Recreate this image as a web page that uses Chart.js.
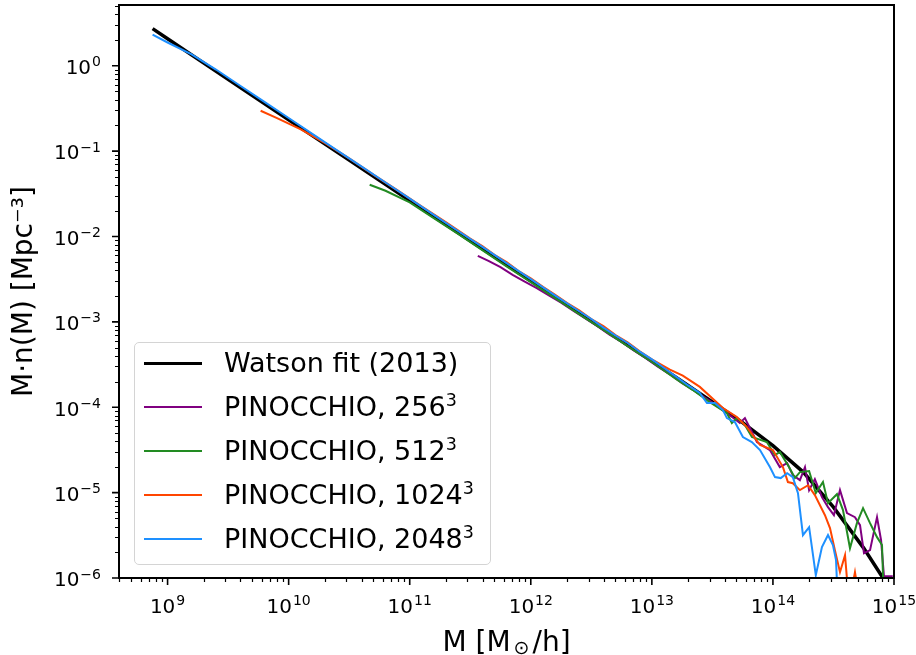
<!DOCTYPE html>
<html>
<head>
<meta charset="utf-8">
<script src="https://cdn.jsdelivr.net/npm/chart.js@4.4.1/dist/chart.umd.min.js"></script>
<style>
  html, body { margin: 0; padding: 0; background: #fff; }
  #wrap { position: relative; width: 916px; height: 655px; font-family: "DejaVu Sans"; }
  #legendBox { position: absolute; left: 134px; top: 342px; width: 357px; height: 223px; box-sizing: border-box;
    border: 1.5px solid #d4d4d4; border-radius: 5px; background: rgba(255,255,255,0.8); }
  .row { position: absolute; left: 0; height: 44px; width: 400px; }
  .swatch { position: absolute; left: 144px; width: 58px; }
  .label { position: absolute; left: 224px; top: 0; height: 44px; line-height: 44px; font-size: 27px; color: #000; white-space: nowrap; }
  .label sup { font-size: 17.5px; vertical-align: 10px; line-height: 0; }
</style>
</head>
<body>
<div id="wrap">
  <canvas id="myChart" width="916" height="655"></canvas>
  <div id="legendBox"></div>
  <div id="legendRows"></div>
</div>
<script>
// x: halo mass M [Msun/h], y: M*n(M) [Mpc^-3]
const watsonMass = [7.52e8, 1e9, 3.16e9, 1e10, 3.16e10, 1e11, 3.16e11, 1e12, 3.16e12, 1e13, 1.78e13, 3.16e13, 5.62e13, 1e14, 1.78e14, 3.16e14, 5.62e14, 1e15];
const watsonValue = [2.72, 2.07, 0.692, 0.233, 0.0785, 0.0263, 8.91e-3, 3.02e-3, 1.02e-3, 3.47e-4, 2.0e-4, 1.15e-4, 6.61e-5, 3.55e-5, 1.74e-5, 6.76e-6, 2.24e-6, 6.31e-7];

const mass256 = [3.65e11, 4.47e11, 5.62e11, 7.08e11, 8.91e11, 1.12e12, 1.41e12, 1.78e12, 2.24e12, 2.82e12, 3.55e12, 4.47e12, 5.62e12, 7.08e12, 8.91e12, 1.12e13, 1.41e13, 1.78e13, 2.24e13, 2.82e13, 3.55e13, 5.33e13, 5.87e13, 6.70e13, 7.38e13, 9.44e13, 1.14e14, 1.31e14, 1.46e14, 1.67e14, 1.84e14, 1.99e14, 2.22e14, 2.54e14, 2.85e14, 3.19e14, 3.58e14, 4.09e14, 4.76e14, 5.24e14, 5.65e14, 6.34e14, 7.24e14, 7.82e14, 8.26e14, 9.77e14];
const value256 = [5.93e-3, 5.19e-3, 4.37e-3, 3.55e-3, 2.95e-3, 2.48e-3, 2.04e-3, 1.68e-3, 1.35e-3, 1.10e-3, 8.91e-4, 7.08e-4, 5.82e-4, 4.62e-4, 3.76e-4, 2.99e-4, 2.43e-4, 1.91e-4, 1.57e-4, 1.26e-4, 1.02e-4, 6.53e-5, 7.46e-5, 5.12e-5, 3.91e-5, 3.15e-5, 1.99e-5, 2.22e-5, 1.60e-5, 1.40e-5, 1.99e-5, 1.07e-5, 1.44e-5, 8.85e-6, 6.76e-6, 5.44e-6, 1.07e-5, 5.75e-6, 5.16e-6, 4.16e-6, 1.95e-6, 2.12e-6, 5.16e-6, 2.77e-6, 1.05e-6, 1.05e-6];

const mass512 = [4.67e10, 6.31e10, 1e11, 1.58e11, 2.51e11, 3.98e11, 6.31e11, 1e12, 1.58e12, 2.51e12, 3.98e12, 6.31e12, 1e13, 1.58e13, 2.18e13, 3.01e13, 4.17e13, 4.58e13, 5.04e13, 5.87e13, 6.70e13, 8.91e13, 1.04e14, 1.14e14, 1.33e14, 1.52e14, 1.67e14, 1.99e14, 2.26e14, 2.59e14, 2.85e14, 3.38e14, 3.79e14, 4.33e14, 4.94e14, 5.55e14, 6.34e14, 7.24e14, 7.96e14, 8.26e14];
const value512 = [0.0403, 0.0343, 0.0251, 0.0164, 0.0107, 6.92e-3, 4.47e-3, 2.92e-3, 1.91e-3, 1.23e-3, 8.04e-4, 5.19e-4, 3.39e-4, 2.14e-4, 1.59e-4, 1.15e-4, 8.55e-5, 6.53e-5, 7.46e-5, 6.18e-5, 4.48e-5, 3.91e-5, 2.75e-5, 2.99e-5, 2.10e-5, 1.48e-5, 1.74e-5, 1.79e-5, 9.86e-6, 1.33e-5, 7.53e-6, 9.59e-6, 6.24e-6, 2.23e-6, 4.39e-6, 6.58e-6, 4.39e-6, 3.01e-6, 2.43e-6, 5e-7];

const mass1024 = [5.87e9, 7.94e9, 1.26e10, 2.0e10, 3.16e10, 5.01e10, 7.94e10, 1.26e11, 2.0e11, 3.16e11, 3.98e11, 5.01e11, 6.31e11, 7.94e11, 1e12, 1.26e12, 1.58e12, 2.0e12, 2.51e12, 3.16e12, 3.98e12, 5.01e12, 6.31e12, 7.94e12, 1e13, 1.41e13, 1.80e13, 2.49e13, 3.86e13, 5.04e13, 6.10e13, 7.82e13, 1e14, 1.21e14, 1.33e14, 1.46e14, 1.67e14, 1.95e14, 2.22e14, 2.69e14, 2.96e14, 3.25e14, 3.58e14, 3.94e14, 4.25e14, 4.76e14, 5.25e14];
const value1024 = [0.297, 0.245, 0.180, 0.124, 0.0822, 0.0531, 0.0347, 0.0224, 0.0146, 9.44e-3, 7.73e-3, 6.10e-3, 5.01e-3, 3.94e-3, 3.24e-3, 2.57e-3, 2.09e-3, 1.66e-3, 1.36e-3, 1.08e-3, 8.91e-4, 7.00e-4, 5.75e-4, 4.52e-4, 3.63e-4, 2.75e-4, 2.34e-4, 1.73e-4, 9.79e-5, 7.67e-5, 5.86e-5, 3.61e-5, 3.15e-5, 1.99e-5, 1.33e-5, 1.29e-5, 1.07e-5, 1.22e-5, 9.35e-6, 5.44e-6, 3.84e-6, 2.12e-6, 1.17e-6, 1.85e-6, 5e-7, 1.17e-6, 5e-7];

const mass2048 = [7.52e8, 1e9, 1.58e9, 2.51e9, 3.98e9, 6.31e9, 1e10, 1.58e10, 2.51e10, 3.98e10, 6.31e10, 1e11, 1.58e11, 2.51e11, 3.98e11, 6.31e11, 1e12, 1.58e12, 2.51e12, 3.16e12, 3.98e12, 5.01e12, 6.31e12, 7.94e12, 1e13, 1.26e13, 1.58e13, 2.0e13, 2.49e13, 2.85e13, 3.32e13, 3.86e13, 4.17e13, 4.85e13, 5.65e13, 6.70e13, 7.82e13, 9.44e13, 1.04e14, 1.16e14, 1.31e14, 1.46e14, 1.61e14, 1.77e14, 1.99e14, 2.26e14, 2.54e14, 2.85e14, 3.13e14, 3.32e14, 3.44e14];
const value2048 = [2.31, 1.87, 1.36, 0.902, 0.582, 0.377, 0.244, 0.158, 0.102, 0.0661, 0.0429, 0.0277, 0.0179, 0.0116, 7.55e-3, 4.88e-3, 3.16e-3, 2.04e-3, 1.33e-3, 1.08e-3, 8.55e-4, 6.92e-4, 5.65e-4, 4.47e-4, 3.63e-4, 2.88e-4, 2.29e-4, 1.80e-4, 1.47e-4, 1.12e-4, 1.12e-4, 9.27e-5, 7.46e-5, 6.70e-5, 4.48e-5, 3.91e-5, 3.15e-5, 1.99e-5, 1.52e-5, 1.48e-5, 1.69e-5, 1.52e-5, 9.86e-6, 3.18e-6, 3.94e-6, 1.08e-6, 2.30e-6, 3.18e-6, 2.43e-6, 1.62e-6, 5e-7];

const seriesNames = ["Watson fit (2013)", "PINOCCHIO, 256", "PINOCCHIO, 512", "PINOCCHIO, 1024", "PINOCCHIO, 2048"];
const seriesSup = ["", "3", "3", "3", "3"];
const seriesColors = ["#000000", "#800080", "#228b22", "#ff4500", "#1e90ff"];

// tick labels as [base, exponent]
const xTickValues = [1e9, 1e10, 1e11, 1e12, 1e13, 1e14, 1e15];
const xTickLabels = [["10", "9"], ["10", "10"], ["10", "11"], ["10", "12"], ["10", "13"], ["10", "14"], ["10", "15"]];
const yTickValues = [1e-6, 1e-5, 1e-4, 1e-3, 1e-2, 1e-1, 1];
const yTickLabels = [["10", "\u22126"], ["10", "\u22125"], ["10", "\u22124"], ["10", "\u22123"], ["10", "\u22122"], ["10", "\u22121"], ["10", "0"]];

const xMin = 3.97e8, xMax = 1e15;
const yMin = 1e-6, yMax = 5.14;

function pairs(xs, ys) {
  return xs.map((x, i) => ({ x: x, y: ys[i] }));
}

function minorTicks(lo, hi) {
  const out = [];
  for (let e = Math.floor(Math.log10(lo)); e <= Math.ceil(Math.log10(hi)); e++) {
    for (let k = 2; k <= 9; k++) {
      const v = k * Math.pow(10, e);
      if (v >= lo && v <= hi) out.push(v);
    }
  }
  return out;
}

const MAIN_FONT = '20px "DejaVu Sans"';
const SUP_FONT = '14px "DejaVu Sans"';

// frame, tick marks, tick labels with superscripts, and the x title
const axesDecor = {
  id: "axesDecor",
  afterDraw(chart) {
    const ctx = chart.ctx;
    const a = chart.chartArea;
    const x = chart.scales.x, y = chart.scales.y;
    ctx.save();
    ctx.strokeStyle = "#000";
    ctx.lineWidth = 1.2;
    ctx.beginPath();
    minorTicks(xMin, xMax).forEach(v => {
      const p = Math.round(x.getPixelForValue(v)) + 0.5;
      ctx.moveTo(p, a.bottom); ctx.lineTo(p, a.bottom + 4);
    });
    minorTicks(yMin, yMax).forEach(v => {
      const p = Math.round(y.getPixelForValue(v)) + 0.5;
      ctx.moveTo(a.left, p); ctx.lineTo(a.left - 4, p);
    });
    ctx.stroke();
    ctx.lineWidth = 1.6;
    ctx.beginPath();
    xTickValues.forEach(v => {
      const p = x.getPixelForValue(v);
      ctx.moveTo(p, a.bottom); ctx.lineTo(p, a.bottom + 7);
    });
    yTickValues.forEach(v => {
      const p = y.getPixelForValue(v);
      ctx.moveTo(a.left, p); ctx.lineTo(a.left - 7, p);
    });
    ctx.stroke();
    ctx.lineWidth = 2;
    ctx.strokeRect(a.left, a.top, a.right - a.left, a.bottom - a.top);

    ctx.fillStyle = "#000";
    ctx.textBaseline = "alphabetic";
    ctx.textAlign = "left";
    xTickValues.forEach((v, i) => {
      const p = x.getPixelForValue(v);
      const [b, e] = xTickLabels[i];
      ctx.font = MAIN_FONT; const wb = ctx.measureText(b).width;
      ctx.font = SUP_FONT; const we = ctx.measureText(e).width;
      const sx = p - (wb + 1 + we) / 2;
      ctx.font = MAIN_FONT; ctx.fillText(b, sx, a.bottom + 35);
      ctx.font = SUP_FONT; ctx.fillText(e, sx + wb + 1, a.bottom + 27);
    });
    yTickValues.forEach((v, i) => {
      const p = y.getPixelForValue(v);
      const [b, e] = yTickLabels[i];
      ctx.font = MAIN_FONT; const wb = ctx.measureText(b).width;
      ctx.font = SUP_FONT; const we = ctx.measureText(e).width;
      const sx = a.left - 18 - (wb + 1 + we);
      ctx.font = MAIN_FONT; ctx.fillText(b, sx, p + 8.3);
      ctx.font = SUP_FONT; ctx.fillText(e, sx + wb + 1, p + 0.5);
    });

    const big = '28px "DejaVu Sans"', small = '19px "DejaVu Sans"';
    const p1 = "M [M", p2 = "\u2299", p3 = "/h]";
    ctx.font = big;
    const w1 = ctx.measureText(p1).width, w3 = ctx.measureText(p3).width;
    ctx.font = small;
    const w2 = ctx.measureText(p2).width;
    const total = w1 + 3 + w2 + 3 + w3;
    const sx = (a.left + a.right) / 2 - total / 2;
    ctx.font = big;
    ctx.fillText(p1, sx, 651);
    ctx.font = small;
    ctx.fillText(p2, sx + w1 + 3, 654);
    ctx.font = big;
    ctx.fillText(p3, sx + w1 + 3 + w2 + 3, 651);
    ctx.restore();
  }
};

Chart.defaults.font.family = "DejaVu Sans";
Chart.defaults.color = "#000";

const datasets = [
  { label: seriesNames[0], data: pairs(watsonMass, watsonValue), borderColor: seriesColors[0], borderWidth: 3.5, order: 5 },
  { label: seriesNames[1], data: pairs(mass256, value256), borderColor: seriesColors[1], borderWidth: 2, order: 4 },
  { label: seriesNames[2], data: pairs(mass512, value512), borderColor: seriesColors[2], borderWidth: 2, order: 3 },
  { label: seriesNames[3], data: pairs(mass1024, value1024), borderColor: seriesColors[3], borderWidth: 2, order: 2 },
  { label: seriesNames[4], data: pairs(mass2048, value2048), borderColor: seriesColors[4], borderWidth: 2, order: 1 }
].map(d => Object.assign(d, { showLine: true, pointRadius: 0, fill: false, tension: 0, clip: 0 }));

const ctx = document.getElementById("myChart").getContext("2d");
const myChart = new Chart(ctx, {
  type: "scatter",
  data: { datasets: datasets },
  options: {
    responsive: false,
    animation: false,
    devicePixelRatio: 1,
    layout: { padding: { top: 5, right: 22, left: 0, bottom: 0 } },
    plugins: { legend: { display: false }, tooltip: { enabled: false } },
    scales: {
      x: {
        type: "logarithmic",
        min: xMin,
        max: xMax,
        grid: { display: false, drawTicks: false },
        border: { display: false },
        ticks: { display: false },
        afterFit: axis => {
          axis.height = 77;
          axis.paddingLeft = 0; axis.paddingRight = 0;
        }
      },
      y: {
        type: "logarithmic",
        min: yMin,
        max: yMax,
        grid: { display: false, drawTicks: false },
        border: { display: false },
        ticks: { display: false },
        afterFit: axis => {
          axis.width = 119;
          axis.paddingTop = 0; axis.paddingBottom = 0;
        },
        title: {
          display: true,
          text: "M·n(M) [Mpc⁻³]",
          font: { size: 28 },
          padding: { top: 8, bottom: 0 }
        }
      }
    }
  },
  plugins: [axesDecor]
});

// legend drawn as html over the plot, bottom-left like the original
const rows = document.getElementById("legendRows");
seriesNames.forEach((name, i) => {
  const row = document.createElement("div");
  row.className = "row";
  const center = 363.3 + 43.95 * i;
  row.style.top = (center - 22) + "px";
  const sw = document.createElement("div");
  sw.className = "swatch";
  const lw = i === 0 ? 3.5 : 2;
  sw.style.top = (22 - lw / 2) + "px";
  sw.style.height = lw + "px";
  sw.style.background = seriesColors[i];
  const lab = document.createElement("div");
  lab.className = "label";
  lab.innerHTML = name + (seriesSup[i] ? "<sup>" + seriesSup[i] + "</sup>" : "");
  row.appendChild(sw);
  row.appendChild(lab);
  rows.appendChild(row);
});
</script>
</body>
</html>
